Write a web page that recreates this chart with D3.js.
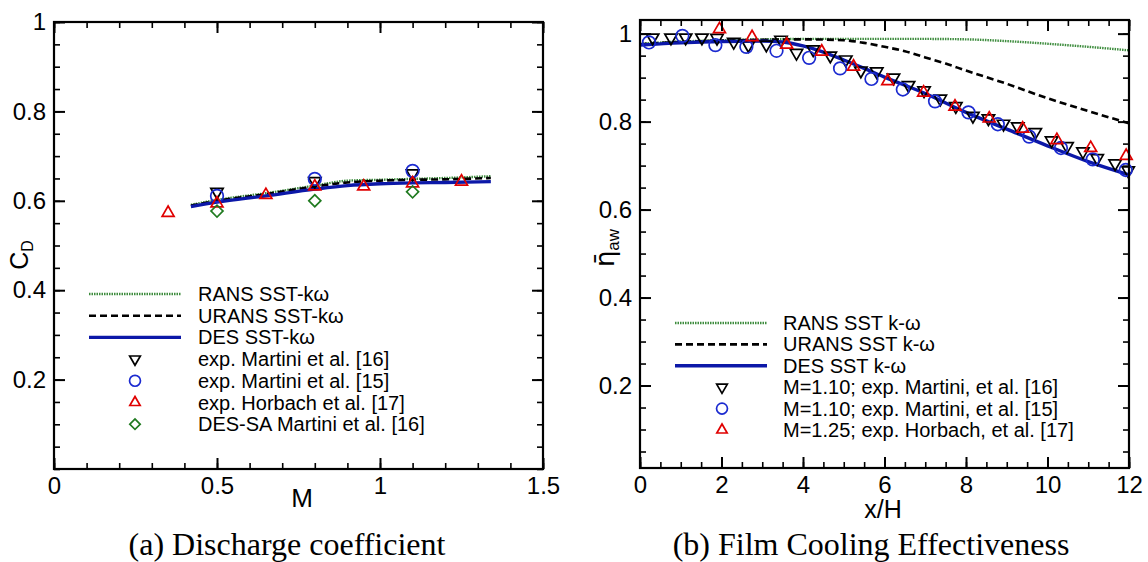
<!DOCTYPE html>
<html>
<head>
<meta charset="utf-8">
<script src="https://cdn.jsdelivr.net/npm/d3@7"></script>
<style>
    body { margin: 0; background: #fff; }
    svg { display: block; }
    text { font-family: "Liberation Sans", Arial, sans-serif; fill: #000; }
    .caption { font-family: "Liberation Serif", "Times New Roman", serif; }
</style>
</head>
<body>
<svg id="chart" width="1148" height="562"></svg>
<script>
// (a) discharge coefficient vs blowing ratio M
const cdLineM = [0.42, 0.5, 0.65, 0.8, 0.9, 1.0, 1.1, 1.2, 1.34];
const cdRans  = [0.591, 0.602, 0.617, 0.634, 0.645, 0.647, 0.649, 0.651, 0.655];
const cdUrans = [0.589, 0.600, 0.615, 0.632, 0.641, 0.645, 0.647, 0.648, 0.651];
const cdDes   = [0.587, 0.597, 0.611, 0.626, 0.634, 0.638, 0.640, 0.641, 0.643];
const cdMartini16 = [[0.5, 0.620], [0.8, 0.644], [1.1, 0.661]];
const cdMartini15 = [[0.5, 0.611], [0.8, 0.649], [1.1, 0.667]];
const cdHorbach   = [[0.35, 0.573], [0.5, 0.594], [0.65, 0.613], [0.8, 0.632], [0.95, 0.632], [1.1, 0.639], [1.25, 0.643]];
const cdDesSA     = [[0.5, 0.577], [0.8, 0.600], [1.1, 0.620]];
const cdLegend = ["RANS SST-kω", "URANS SST-kω", "DES SST-kω", "exp. Martini et al. [16]",
    "exp. Martini et al. [15]", "exp. Horbach et al. [17]", "DES-SA Martini et al. [16]"];
const cdXTicks = [0, 0.5, 1, 1.5];
const cdYTicks = [0.2, 0.4, 0.6, 0.8, 1];

// (b) film cooling effectiveness vs x/H
const etaRansX  = [0, 1, 2, 3, 4, 5, 6, 7, 8, 9, 10, 11, 12];
const etaRans   = [0.977, 0.982, 0.985, 0.987, 0.988, 0.988, 0.988, 0.988, 0.987, 0.983, 0.977, 0.970, 0.962];
const etaUransX = [0, 1, 2, 3, 4, 5, 5.5, 6, 6.5, 7, 7.5, 8, 9, 10, 11, 12];
const etaUrans  = [0.976, 0.981, 0.984, 0.986, 0.987, 0.985, 0.979, 0.970, 0.960, 0.946, 0.932, 0.916, 0.886, 0.853, 0.824, 0.796];
const etaDesX   = [0, 1, 2, 3, 3.5, 4, 4.5, 5, 5.5, 6, 7, 8, 9, 10, 11, 12];
const etaDes    = [0.974, 0.979, 0.982, 0.983, 0.981, 0.972, 0.958, 0.940, 0.921, 0.901, 0.864, 0.821, 0.783, 0.745, 0.709, 0.679];
const etaMartini16 = [[0.31, 0.991], [0.76, 0.991], [1.12, 0.991], [1.52, 0.991], [1.89, 0.990], [2.30, 0.981],
    [2.66, 0.974], [3.10, 0.975], [3.46, 0.986], [3.84, 0.956], [4.25, 0.964], [4.67, 0.950], [5.05, 0.941],
    [5.42, 0.916], [5.81, 0.914], [6.22, 0.900], [6.59, 0.883], [6.97, 0.871], [7.37, 0.852], [7.75, 0.835],
    [8.17, 0.813], [8.55, 0.807], [8.92, 0.795], [9.27, 0.789], [9.70, 0.776], [10.10, 0.757], [10.48, 0.744],
    [10.87, 0.732], [11.22, 0.717], [11.66, 0.705], [11.98, 0.689]];
const etaMartini15 = [[0.22, 0.980], [1.04, 0.995], [1.85, 0.974], [2.61, 0.970], [3.35, 0.961], [4.15, 0.945],
    [4.91, 0.921], [5.68, 0.897], [6.45, 0.873], [7.24, 0.846], [8.06, 0.821], [8.78, 0.794], [9.55, 0.766],
    [10.33, 0.740], [11.11, 0.714], [11.92, 0.690]];
const etaHorbach = [[1.95, 1.010], [2.75, 0.992], [3.60, 0.975], [4.46, 0.959], [5.24, 0.925], [6.08, 0.892],
    [6.96, 0.866], [7.73, 0.834], [8.57, 0.807], [9.39, 0.784], [10.23, 0.758], [11.06, 0.740], [11.93, 0.722]];
const etaLegend = ["RANS SST k-ω", "URANS SST k-ω", "DES SST k-ω", "M=1.10; exp. Martini, et al. [16]",
    "M=1.10; exp. Martini, et al. [15]", "M=1.25; exp. Horbach, et al. [17]"];
const etaXTicks = [0, 2, 4, 6, 8, 10, 12];
const etaYTicks = [0.2, 0.4, 0.6, 0.8, 1];

const lineStyle = {
    rans:  {stroke: "#3d8c3d", width: 2.4, dash: "1.5,1"},
    urans: {stroke: "#000", width: 2.6, dash: "7,4"},
    des:   {stroke: "#0c18a8", width: 3.4, dash: null}
};
const markStyle = {
    down:    {type: d3.symbolTriangle, size: 66, rot: 180, stroke: "#000"},
    circle:  {type: d3.symbolCircle, size: 125, rot: 0, stroke: "#1b2ad0"},
    up:      {type: d3.symbolTriangle, size: 62, rot: 0, stroke: "#e00000"},
    diamond: {type: d3.symbolSquare, size: 72, rot: 45, stroke: "#1f7a1f"}
};

const svg = d3.select("#chart");
const fmt = d3.format("~g");

function frame(g, x, y, xMajor, xMinor, yMajor, yMinor) {
    const [x0, x1] = x.range(), [y0, y1] = y.range();
    const sides = [
        [d3.axisBottom, x, `translate(0,${y0})`, xMajor, xMinor, true],
        [d3.axisTop, x, `translate(0,${y1})`, xMajor, xMinor, false],
        [d3.axisLeft, y, `translate(${x0},0)`, yMajor, yMinor, true],
        [d3.axisRight, y, `translate(${x1},0)`, yMajor, yMinor, false]
    ];
    sides.forEach(([axisFn, sc, tr, major, minor, labels]) => {
        // minor ticks, pointing inward
        g.append("g").attr("transform", tr)
            .call(axisFn(sc).tickValues(minor).tickSize(-6).tickFormat(""))
            .call(s => s.select(".domain").remove())
            .selectAll("line").attr("stroke-width", 1.6);
        // major ticks + labels
        const sel = g.append("g").attr("transform", tr)
            .call(axisFn(sc).tickValues(major).tickSize(-11).tickPadding(8).tickFormat(labels ? fmt : ""));
        sel.attr("font-family", null);
        sel.select(".domain").remove();
        sel.selectAll("line").attr("stroke-width", 2);
        sel.selectAll("text").attr("font-size", 24);
    });
    g.append("rect")
        .attr("x", x0).attr("y", y1).attr("width", x1 - x0).attr("height", y0 - y1)
        .attr("fill", "none").attr("stroke", "#000").attr("stroke-width", 2.2);
}

function drawLine(g, xs, ys, x, y, st) {
    g.append("path")
        .datum(xs.map((d, i) => [d, ys[i]]))
        .attr("d", d3.line().x(d => x(d[0])).y(d => y(d[1])).curve(d3.curveMonotoneX))
        .attr("fill", "none")
        .attr("stroke", st.stroke)
        .attr("stroke-width", st.width)
        .attr("stroke-dasharray", st.dash);
}

function drawMarks(g, pts, x, y, st) {
    g.append("g").selectAll("path")
        .data(pts)
        .join("path")
        .attr("d", d3.symbol().type(st.type).size(st.size))
        .attr("transform", d => `translate(${x(d[0])},${y(d[1])}) rotate(${st.rot})`)
        .attr("fill", "none")
        .attr("stroke", st.stroke)
        .attr("stroke-width", 1.7);
}

function legend(g, labels, kinds, x0, x1, xs, xt, yTop, dy) {
    labels.forEach((label, i) => {
        const yy = yTop + i * dy;
        const k = kinds[i];
        if (lineStyle[k]) {
            const st = lineStyle[k];
            g.append("line").attr("x1", x0).attr("x2", x1).attr("y1", yy).attr("y2", yy)
                .attr("stroke", st.stroke).attr("stroke-width", st.width).attr("stroke-dasharray", st.dash);
        } else {
            const st = markStyle[k];
            g.append("path")
                .attr("d", d3.symbol().type(st.type).size(st.size * 0.75))
                .attr("transform", `translate(${xs},${yy}) rotate(${st.rot})`)
                .attr("fill", "none").attr("stroke", st.stroke).attr("stroke-width", 1.7);
        }
        g.append("text").attr("x", xt).attr("y", yy + 7).attr("font-size", 20).text(label);
    });
}

// ---- panel (a)
const xa = d3.scaleLinear().domain([0, 1.5]).range([54, 543]);
const ya = d3.scaleLinear().domain([0, 1]).range([469, 22]);
const ga = svg.append("g");

drawLine(ga, cdLineM, cdRans, xa, ya, lineStyle.rans);
drawLine(ga, cdLineM, cdUrans, xa, ya, lineStyle.urans);
drawLine(ga, cdLineM, cdDes, xa, ya, lineStyle.des);
drawMarks(ga, cdMartini16, xa, ya, markStyle.down);
drawMarks(ga, cdMartini15, xa, ya, markStyle.circle);
drawMarks(ga, cdHorbach, xa, ya, markStyle.up);
drawMarks(ga, cdDesSA, xa, ya, markStyle.diamond);
frame(ga, xa, ya, cdXTicks, d3.range(0, 1.51, 0.1), cdYTicks, d3.range(0, 1.001, 0.05));
legend(ga, cdLegend, ["rans", "urans", "des", "down", "circle", "up", "diamond"], 89, 181, 135, 198, 294, 21.7);

ga.append("text").attr("x", 302).attr("y", 507).attr("text-anchor", "middle").attr("font-size", 26).text("M");
ga.append("text").attr("transform", "translate(28,255) rotate(-90)").attr("text-anchor", "middle")
    .attr("font-size", 25)
    .call(t => { t.append("tspan").text("C"); t.append("tspan").attr("font-size", 16).attr("dy", 5).text("D"); });
ga.append("text").attr("class", "caption").attr("x", 287).attr("y", 555).attr("text-anchor", "middle")
    .attr("font-size", 32).text("(a) Discharge coefficient");

// ---- panel (b)
const xb = d3.scaleLinear().domain([0, 12]).range([640, 1129]);
const yb = d3.scaleLinear().domain([0.0125, 1.031]).range([468, 20]);
const gb = svg.append("g");

drawLine(gb, etaRansX, etaRans, xb, yb, lineStyle.rans);
drawLine(gb, etaUransX, etaUrans, xb, yb, lineStyle.urans);
drawLine(gb, etaDesX, etaDes, xb, yb, lineStyle.des);
drawMarks(gb, etaMartini16, xb, yb, markStyle.down);
drawMarks(gb, etaMartini15, xb, yb, markStyle.circle);
drawMarks(gb, etaHorbach, xb, yb, markStyle.up);
frame(gb, xb, yb, etaXTicks, d3.range(0, 12.01, 0.5), etaYTicks, d3.range(0.05, 1.001, 0.05));
legend(gb, etaLegend, ["rans", "urans", "des", "down", "circle", "up"], 675, 767, 722, 783, 323, 21.4);

gb.append("text").attr("x", 883).attr("y", 518).attr("text-anchor", "middle").attr("font-size", 25).text("x/H");
gb.append("text").attr("transform", "translate(614,248) rotate(-90)").attr("text-anchor", "middle")
    .attr("font-size", 26)
    .call(t => {
        t.append("tspan").style("font-family", "'DejaVu Sans', sans-serif").text("η\u0304");
        t.append("tspan").attr("font-size", 17).attr("dy", 5).text("aw");
    });
gb.append("text").attr("class", "caption").attr("x", 871).attr("y", 555).attr("text-anchor", "middle")
    .attr("font-size", 32).text("(b) Film Cooling Effectiveness");
</script>
</body>
</html>
